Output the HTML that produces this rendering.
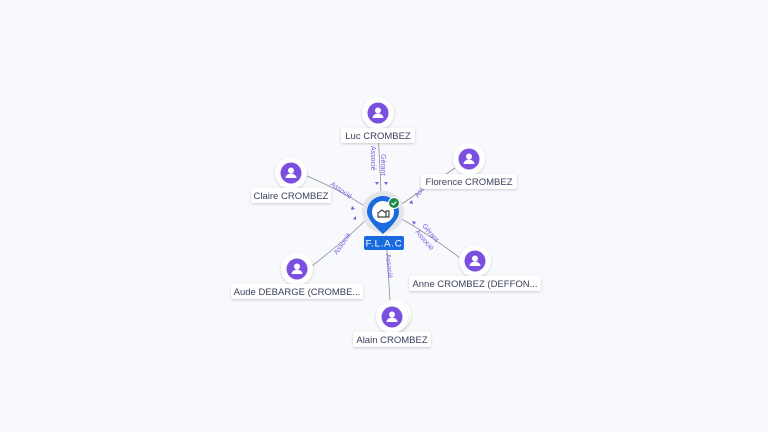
<!DOCTYPE html>
<html><head><style>
html,body{margin:0;padding:0;background:#f8f9fd;width:768px;height:432px;overflow:hidden}
svg{display:block;font-family:"Liberation Sans",sans-serif}
.lbl{font-size:9.5px;fill:#3a3f5c}
.el{font-size:7px;fill:#7b5fe0}
</style></head><body>
<svg width="768" height="432" viewBox="0 0 768 432">
<defs>
<filter id="sh" x="-50%" y="-50%" width="200%" height="200%"><feDropShadow dx="0" dy="1" stdDeviation="1.2" flood-color="#000" flood-opacity="0.18"/></filter>
<g id="person">
<circle r="16" fill="#fff" filter="url(#sh)"/>
<circle r="10.5" fill="#7b4fe0"/>
<circle cy="-2.5" r="3" fill="#fff"/>
<path d="M-5.5,5 a5.5,4.5 0 0 1 11,0 z" fill="#fff"/>
</g>
</defs>
<g stroke="#8a8f9e" stroke-width="0.8" fill="none">
<path d="M378,129 L381,192"/>
<path d="M455,168 Q430,185 400,205"/>
<path d="M307,176 Q340,190 366,207"/>
<path d="M312,266 Q345,240 366,220"/>
<path d="M460,258 Q430,235 400,218"/>
<path d="M390,301 L386,235"/>
</g>
<g fill="#7b5fe0">
<path d="M375,182 l4,0 l-2,3z"/><path d="M384,182 l4,0 l-2,3z"/>
<path d="M352,206 l3,3 l-4,1z"/><path d="M353,219 l3,-3 l0,4z"/>
<path d="M412,200 l-3,3 l4,1z"/><path d="M416,222 l-4,-1 l2,4z"/>
</g>
<text class="el" transform="translate(371,146) rotate(90)">Associé</text>
<text class="el" transform="translate(381,154) rotate(90)">Gérant</text>
<text class="el" transform="translate(330,185) rotate(35)">Associé</text>
<text class="el" transform="translate(337,255) rotate(-55)">Associé</text>
<text class="el" transform="translate(418,198) rotate(-55)">Assoc</text>
<text class="el" transform="translate(422,226) rotate(50)">Gérant</text>
<text class="el" transform="translate(415,232) rotate(50)">Associé</text>
<text class="el" transform="translate(386,254) rotate(85)">Associé</text>

<circle cx="383" cy="212" r="21" fill="#e3e5ea"/>
<path d="M367,212 a16,16 0 1 1 32,0 q0,8 -16,22 q-16,-14 -16,-22z" fill="#1a6be0"/>
<circle cx="383" cy="212" r="11" fill="#fff"/>
<path d="M378,217 l0,-4 l4,-3 l4,3 l0,4z M386,217 l0,-6 l3,0 l0,6z" fill="none" stroke="#444" stroke-width="1.2"/>
<circle cx="394" cy="203" r="5.5" fill="#1e8a4a" stroke="#fff" stroke-width="1"/>
<path d="M391.5,203 l1.8,1.8 l3,-3.2" stroke="#fff" stroke-width="1.1" fill="none"/>
<rect x="364" y="236" width="40" height="14" rx="2" fill="#1a6be0"/>
<text x="384" y="246.5" text-anchor="middle" font-size="9.5" fill="#fff" letter-spacing="0.8">F.L.A.C</text>

<use href="#person" x="378" y="113"/>
<rect x="341" y="128" width="74" height="15" rx="2" fill="#fff" filter="url(#sh)"/>
<text class="lbl" x="378" y="139" text-anchor="middle">Luc CROMBEZ</text>
<use href="#person" x="469" y="159"/>
<rect x="421" y="174" width="96" height="15" rx="2" fill="#fff" filter="url(#sh)"/>
<text class="lbl" x="469" y="185" text-anchor="middle">Florence CROMBEZ</text>
<use href="#person" x="291" y="173"/>
<rect x="251" y="188" width="80" height="15" rx="2" fill="#fff" filter="url(#sh)"/>
<text class="lbl" x="291" y="199" text-anchor="middle">Claire CROMBEZ</text>
<use href="#person" x="297" y="269"/>
<rect x="231" y="284" width="132" height="15" rx="2" fill="#fff" filter="url(#sh)"/>
<text class="lbl" x="297" y="295" text-anchor="middle">Aude DEBARGE (CROMBE...</text>
<use href="#person" x="475" y="261"/>
<rect x="409" y="276" width="132" height="15" rx="2" fill="#fff" filter="url(#sh)"/>
<text class="lbl" x="475" y="287" text-anchor="middle">Anne CROMBEZ (DEFFON...</text>
<circle cx="395" cy="315" r="16" fill="#fff" filter="url(#sh)"/>
<use href="#person" x="392" y="317"/>
<rect x="353" y="332" width="78" height="15" rx="2" fill="#fff" filter="url(#sh)"/>
<text class="lbl" x="392" y="343" text-anchor="middle">Alain CROMBEZ</text>
</svg>
</body></html>
